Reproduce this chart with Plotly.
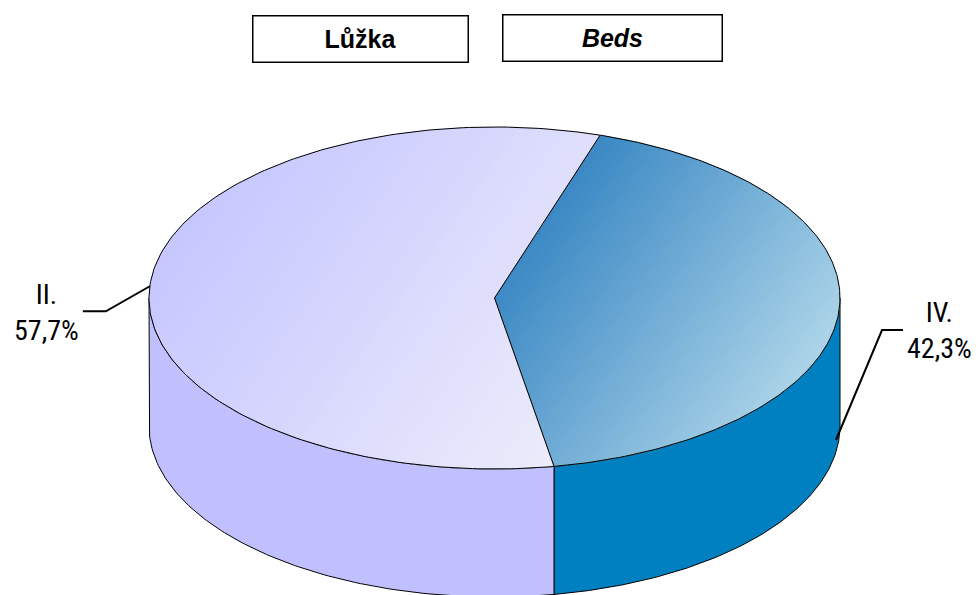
import numpy as np
import plotly.graph_objects as go

# ---- data ----
categories = ["II.", "IV."]
values = [57.7, 42.3]
pct_labels = ["57,7%", "42,3%"]
title_cz = "Lůžka"
title_en = "Beds"

# ---- layout / style ----
W, H = 978, 595
cx, cy = 494.5, 298.0
rx, ry = 345.5, 171.0
depth = 128.0
start_deg = 72.2           # slices drawn clockwise from here
order = [1, 0]             # IV first, then II
top_colors = {0: ("#c6c6ff", "#ececfb"), 1: ("#3a88c4", "#acd4e8")}
side_colors = {0: "#c0c0ff", 1: "#0080c0"}
grad_dir = np.array([np.cos(np.radians(35)), np.sin(np.radians(35))])  # screen dir dark->light
label_font = "Liberation Sans Narrow, Arial Narrow, Roboto Condensed, sans-serif"


def ell(t_deg, dz=0.0):
    t = np.radians(np.asarray(t_deg, dtype=float))
    return cx + rx * np.cos(t), cy - ry * np.sin(t) + dz


def hexrgb(h):
    h = h.lstrip("#")
    return np.array([int(h[i:i + 2], 16) for i in (0, 2, 4)], dtype=float)


def mix(c0, c1, f):
    c = hexrgb(c0) * (1 - f) + hexrgb(c1) * f
    return "rgb(%d,%d,%d)" % tuple(np.round(c))


def clip(poly, d, s, keep_ge):
    out = []
    n = len(poly)
    for i in range(n):
        p, q = poly[i], poly[(i + 1) % n]
        sp, sq = p @ d - s, q @ d - s
        inp = sp >= 0 if keep_ge else sp <= 0
        inq = sq >= 0 if keep_ge else sq <= 0
        if inp:
            out.append(p)
        if inp != inq:
            f = sp / (sp - sq)
            out.append(p + f * (q - p))
    return out


fig = go.Figure()

total = sum(values)
spans = {i: values[i] / total * 360.0 for i in range(len(values))}
angles = {}
a = start_deg
for i in order:
    angles[i] = (a, a - spans[i])
    a -= spans[i]

# ---- side faces (front half only: sin t <= 0) ----
for i in order:
    a0, a1 = angles[i]
    for k in range(-2, 3):
        lo = max(a1, -180 - 360 * k)
        hi = min(a0, -360 * k)
        if hi - lo > 1e-6:
            t = np.linspace(hi, lo, 120)
            xt, yt = ell(t)
            xb, yb = ell(t[::-1], depth)
            fig.add_trace(go.Scatter(
                x=np.r_[xt, xb, xt[:1]], y=np.r_[yt, yb, yt[:1]],
                mode="lines", fill="toself", fillcolor=side_colors[i],
                line=dict(color="black", width=1), hoverinfo="skip",
                showlegend=False))

# ---- top faces with diagonal gradient bands ----
N = 36
for i in order:
    a0, a1 = angles[i]
    t = np.linspace(a0, a1, 200)
    xs, ys = ell(t)
    poly = [np.array([cx, cy])] + [np.array([x, y]) for x, y in zip(xs, ys)]
    s_all = np.array([p @ grad_dir for p in poly])
    smin, smax = s_all.min(), s_all.max()
    edges = np.linspace(smin, smax, N + 1)
    c0, c1 = top_colors[i]
    for b in range(N):
        part = clip(poly, grad_dir, edges[b] - 0.3, True)
        if len(part) < 3:
            continue
        part = clip(part, grad_dir, edges[b + 1] + 0.3, False)
        if len(part) < 3:
            continue
        col = mix(c0, c1, (b + 0.5) / N)
        px = [p[0] for p in part] + [part[0][0]]
        py = [p[1] for p in part] + [part[0][1]]
        fig.add_trace(go.Scatter(
            x=px, y=py, mode="lines", fill="toself", fillcolor=col,
            line=dict(color=col, width=0.6), hoverinfo="skip",
            showlegend=False))
    # outline
    fig.add_trace(go.Scatter(
        x=np.r_[cx, xs, cx], y=np.r_[cy, ys, cy], mode="lines",
        line=dict(color="black", width=1), hoverinfo="skip",
        showlegend=False))

# ---- labels with leader lines ----
for i in order:
    a0, a1 = angles[i]
    mid = (a0 + a1) / 2.0
    mx, my = ell(mid)
    left = np.cos(np.radians(mid)) < 0
    if left:
        ax_, ay_ = float(mx), float(my)
        ex, ey = ax_ - 44, ay_ + 25
        hx = ex - 23
        fig.add_trace(go.Scatter(x=[ax_, ex, hx], y=[ay_, ey, ey], mode="lines",
                                 line=dict(color="black", width=2),
                                 hoverinfo="skip", showlegend=False))
        fig.add_annotation(x=hx - 2, y=ey + 1, xref="x", yref="y",
                           text=categories[i] + "<br>" + pct_labels[i],
                           showarrow=False, xanchor="right", yanchor="middle",
                           align="center",
                           font=dict(family=label_font, size=28, color="black"))
    else:
        ax_, ay_ = 836.0, 440.0
        ex, ey = ax_ + 46, ay_ - 110
        hx = ex + 21
        fig.add_trace(go.Scatter(x=[ax_, ex, hx], y=[ay_, ey, ey], mode="lines",
                                 line=dict(color="black", width=2),
                                 hoverinfo="skip", showlegend=False))
        fig.add_annotation(x=hx + 36, y=ey, xref="x", yref="y",
                           text=categories[i] + "<br>" + pct_labels[i],
                           showarrow=False, xanchor="center", yanchor="middle",
                           align="center",
                           font=dict(family=label_font, size=28, color="black"))

# ---- title boxes ----
fig.add_annotation(x=360, y=38.5, xref="x", yref="y", text="<b>" + title_cz + "</b>",
                   showarrow=False, width=212, height=43,
                   bordercolor="black", borderwidth=1.5, bgcolor="white",
                   font=dict(family="Liberation Sans, Arial, sans-serif", size=25, color="black"))
fig.add_annotation(x=612, y=38, xref="x", yref="y", text="<b><i>" + title_en + "</i></b>",
                   showarrow=False, width=216, height=43,
                   bordercolor="black", borderwidth=1.5, bgcolor="white",
                   font=dict(family="Liberation Sans, Arial, sans-serif", size=25, color="black"))

fig.update_layout(
    width=W, height=H,
    margin=dict(l=0, r=0, t=0, b=0),
    paper_bgcolor="white", plot_bgcolor="white",
    xaxis=dict(range=[0, W], visible=False, fixedrange=True),
    yaxis=dict(range=[H, 0], visible=False, fixedrange=True),
    showlegend=False,
)

fig.write_html("out.html", config={"displayModeBar": False},
               post_script="document.body.style.margin='0';document.body.style.padding='0';document.body.style.overflow='hidden';")
